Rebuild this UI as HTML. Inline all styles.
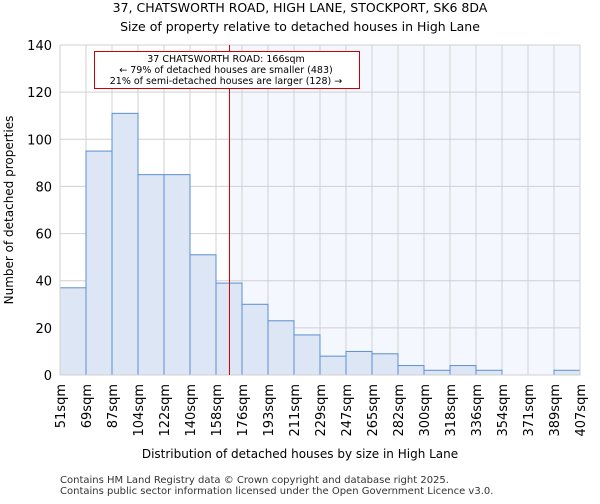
<!DOCTYPE html>
<html><head><meta charset="utf-8"><style>
body{margin:0;background:#fff;font-family:"DejaVu Sans","Liberation Sans",sans-serif}
</style></head><body>
<svg id="c" width="600" height="500" xmlns="http://www.w3.org/2000/svg" font-family="DejaVu Sans, Liberation Sans, sans-serif">
<text x="300" y="12" text-anchor="middle" font-size="12.5">37, CHATSWORTH ROAD, HIGH LANE, STOCKPORT, SK6 8DA</text>
<text x="300" y="31" text-anchor="middle" font-size="12.5">Size of property relative to detached houses in High Lane</text>
<g id="plot"></g>
<text x="300" y="458" text-anchor="middle" font-size="12">Distribution of detached houses by size in High Lane</text>
<text transform="translate(13,210) rotate(-90)" text-anchor="middle" font-size="12">Number of detached properties</text>
<text x="60" y="483" font-size="10" fill="#333">Contains HM Land Registry data © Crown copyright and database right 2025.</text>
<text x="60" y="494" font-size="10" fill="#333">Contains public sector information licensed under the Open Government Licence v3.0.</text>
</svg>
<script>
const categories=["51sqm","69sqm","87sqm","104sqm","122sqm","140sqm","158sqm","176sqm","193sqm","211sqm","229sqm","247sqm","265sqm","282sqm","300sqm","318sqm","336sqm","354sqm","371sqm","389sqm","407sqm"];
const values=[37,95,111,85,85,51,39,30,23,17,8,10,9,4,2,4,2,0,0,2];
const yTicks=[0,20,40,60,80,100,120,140];
const propertySize=166;
const binStarts=[51,69,87,104,122,140,158,176,193,211,229,247,265,282,300,318,336,354,371,389,407];
const NS="http://www.w3.org/2000/svg";
const L=60,R=580,T=45,B=375,yMax=140;
const g=document.getElementById('plot');
const bw=(R-L)/values.length;
const x=i=>L+i*bw;
const y=v=>B-v/yMax*(B-T);
function mk(t,a){const e=document.createElementNS(NS,t);for(const k in a)e.setAttribute(k,a[k]);g.appendChild(e);return e;}
let mi=0;for(let i=0;i<binStarts.length-1;i++){if(propertySize>=binStarts[i]&&propertySize<binStarts[i+1])mi=i;}
const mx=Math.round(x(mi)+(propertySize-binStarts[mi]+1)/(binStarts[mi+1]-binStarts[mi])*bw)+0.5;
const sh=mk('rect',{x:mx,y:T,width:R-mx,height:B-T,fill:'#f5f7ff'});


for(let i=0;i<=values.length;i++){const l=mk('line',{x1:x(i),x2:x(i),y1:T,y2:B,stroke:'#d0d0d0','stroke-width':1});

}
yTicks.forEach(t=>{const l=mk('line',{x1:L,x2:R,y1:y(t),y2:y(t),stroke:'#d0d0d0','stroke-width':1});


const tx=mk('text',{x:L-8,y:y(t)+5,'text-anchor':'end','font-size':13});tx.textContent=t;

});
values.forEach((v,i)=>{const r=mk('rect',{x:x(i),y:y(v),width:bw,height:B-y(v),fill:'#dce6f5',stroke:'#5b8fcf','stroke-width':1});

});
categories.forEach((c,i)=>{const tx=mk('text',{transform:`translate(${x(i)+5},384) rotate(-90)`,'text-anchor':'end','font-size':13});tx.textContent=c;

});
const ax=mk('rect',{x:L,y:T,width:R-L,height:B-T,fill:'none',stroke:'#d0d0d0'});


const ml=mk('line',{x1:mx,x2:mx,y1:T,y2:B,stroke:'#dd0000','stroke-width':1});


const ab=mk('rect',{x:94.5,y:51.5,width:265,height:37,fill:'#fff',stroke:'#cc0000','stroke-width':1});


["37 CHATSWORTH ROAD: 166sqm","← 79% of detached houses are smaller (483)","21% of semi-detached houses are larger (128) →"].forEach((s,i)=>{
const tx=mk('text',{x:226,y:62+i*11,'text-anchor':'middle','font-size':9.5});tx.textContent=s;

});
</script>
</body></html>
